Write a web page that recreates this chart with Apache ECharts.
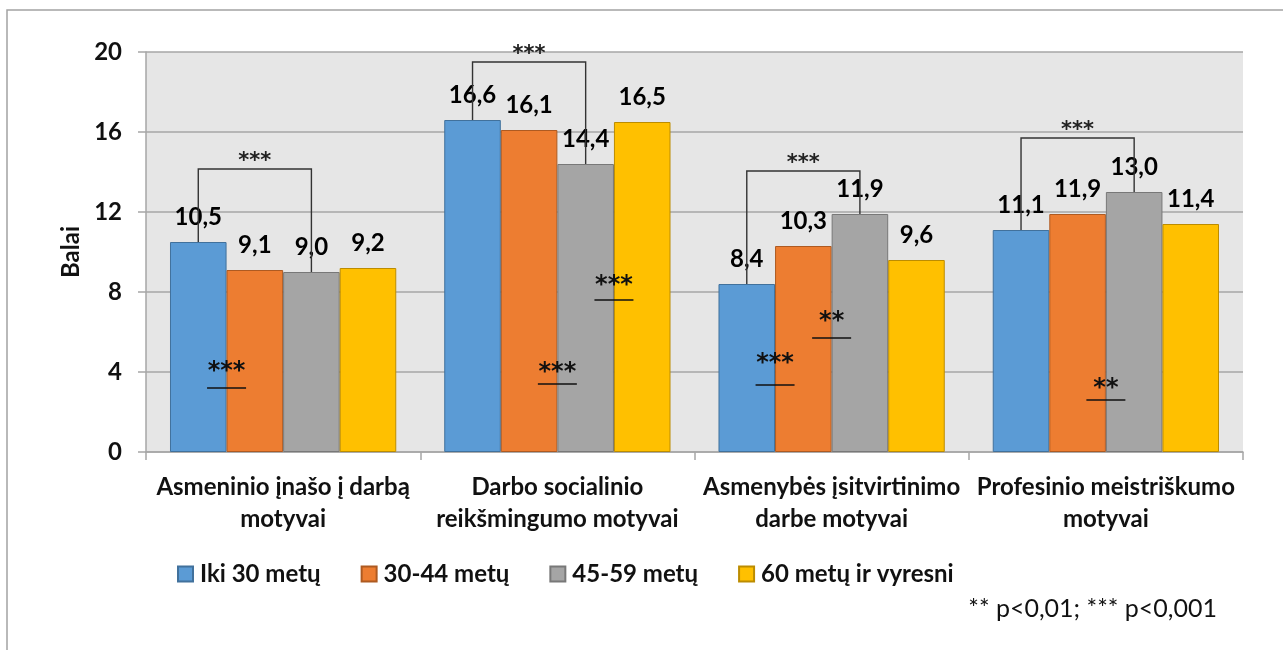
<!DOCTYPE html>
<html>
<head>
<meta charset="utf-8">
<script src="https://cdn.jsdelivr.net/npm/echarts@6/dist/echarts.min.js"></script>
<style>
html,body{margin:0;padding:0;background:#fff;}
#chart{width:1283px;height:650px;}
</style>
</head>
<body>
<div id="chart"></div>
<script>
// ---- data ----
const categories = ['Asmeninio įnašo į darbą\nmotyvai', 'Darbo socialinio\nreikšmingumo motyvai', 'Asmenybės įsitvirtinimo\ndarbe motyvai', 'Profesinio meistriškumo\nmotyvai'];
const seriesNames = ['Iki 30 metų', '30-44 metų', '45-59 metų', '60 metų ir vyresni'];
const iki30 = [10.5, 16.6, 8.4, 11.1];
const m30_44 = [9.1, 16.1, 10.3, 11.9];
const m45_59 = [9.0, 14.4, 11.9, 13.0];
const m60 = [9.2, 16.5, 9.6, 11.4];
const yMin = 0, yMax = 20, yInterval = 4;
// significance brackets (between two age groups within a category)
const bracketCategory = [0, 1, 2, 3];
const bracketFrom = [0, 0, 0, 0];
const bracketTo = [2, 2, 2, 2];
const bracketLevel = [14.15, 19.5, 14.05, 15.7];
const bracketLabel = ['***', '***', '***', '***'];
// significance marks drawn inside bars (placed at boundary after series index)
const markCategory = [0, 1, 1, 2, 2, 3];
const markAfterSeries = [0, 1, 2, 0, 1, 1];
const markTextValue = [4.3, 4.25, 8.6, 4.7, 6.8, 3.45];
const markLineValue = [3.2, 3.4, 7.6, 3.35, 5.7, 2.6];
const markLabel = ['***', '***', '***', '***', '**', '**'];
const footnote = '** p<0,01; *** p<0,001';

// ---- chart ----
const FONT = 'Lato';
const colors = ['#5b9bd5', '#ed7d31', '#a5a5a5', '#ffc000'];
const borders = ['#41719c', '#ae5a21', '#787878', '#bc8c00'];
const allSeries = [iki30, m30_44, m45_59, m60];
const CAT_GAP = 0.175;

const barSeries = allSeries.map((vals, i) => ({
  name: seriesNames[i],
  type: 'bar',
  data: vals,
  barGap: '0%',
  barCategoryGap: (CAT_GAP * 100) + '%',
  itemStyle: { color: colors[i], borderColor: borders[i], borderWidth: 1 },
  label: {
    show: true, position: 'top', distance: 13,
    fontFamily: FONT, fontWeight: 'bold', fontSize: 24, color: '#000',
    formatter: p => p.value.toFixed(1).replace('.', ',')
  },
  emphasis: { disabled: true },
  z: 2
}));

function barX(api, cat, pos) {
  const center = api.coord([cat, 0])[0];
  const band = api.size([1, 0])[0];
  const w = band * (1 - CAT_GAP) / 4;
  return center + (pos - 1.5) * w;
}

const bracketData = bracketCategory.map((c, i) => [c, bracketLevel[i], allSeries[bracketFrom[i]][c], allSeries[bracketTo[i]][c], bracketFrom[i], bracketTo[i]]);
const markData = markCategory.map((c, i) => [c, markLineValue[i], markTextValue[i], markAfterSeries[i]]);

const bracketSeries = {
  type: 'custom', coordinateSystem: 'cartesian2d', silent: true, z: 5, clip: false,
  data: bracketData,
  encode: { x: 0, y: 1 },
  renderItem: (params, api) => {
    const c = api.value(0);
    const yL = api.coord([c, api.value(1)])[1];
    const yA = api.coord([c, api.value(2)])[1];
    const yB = api.coord([c, api.value(3)])[1];
    const xA = barX(api, c, api.value(4));
    const xB = barX(api, c, api.value(5));
    return {
      type: 'group',
      children: [
        { type: 'polyline', shape: { points: [[xA, yA], [xA, yL], [xB, yL], [xB, yB]] },
          style: { stroke: '#333', lineWidth: 1.4, fill: null } },
        { type: 'text', x: (xA + xB) / 2, y: yL + 3,
          style: { text: bracketLabel[params.dataIndex], fontFamily: 'DejaVu Sans', fontWeight: 'bold', fontSize: 21,
                   fill: '#222', textAlign: 'center', textVerticalAlign: 'bottom' } }
      ]
    };
  }
};

const markSeries = {
  type: 'custom', coordinateSystem: 'cartesian2d', silent: true, z: 5, clip: false,
  data: markData,
  encode: { x: 0, y: 1 },
  renderItem: (params, api) => {
    const c = api.value(0);
    const yLine = api.coord([c, api.value(1)])[1];
    const yText = api.coord([c, api.value(2)])[1];
    const x = barX(api, c, api.value(3) + 0.5);
    return {
      type: 'group',
      children: [
        { type: 'line', shape: { x1: x - 19.5, y1: yLine, x2: x + 19.5, y2: yLine },
          style: { stroke: '#111', lineWidth: 1.3 } },
        { type: 'text', x: x, y: yText + 6,
          style: { text: markLabel[params.dataIndex], fontFamily: 'DejaVu Sans', fontWeight: 'bold', fontSize: 24,
                   fill: '#111', textAlign: 'center', textVerticalAlign: 'middle' } }
      ]
    };
  }
};

const chart = echarts.init(document.getElementById('chart'), null, { renderer: 'canvas' });
chart.setOption({
  animation: false,
  backgroundColor: '#ffffff',
  grid: { left: 146, right: 40, top: 52, bottom: 198, show: true, backgroundColor: '#e6e6e6', borderWidth: 0 },
  legend: {
    data: seriesNames, left: 172, top: 557, itemWidth: 15, itemHeight: 15, itemGap: 40,
    icon: 'rect', selectedMode: false,
    textStyle: { fontFamily: FONT, fontWeight: 'bold', fontSize: 24, color: '#111', padding: [0, 0, 0, 2] }
  },
  xAxis: {
    type: 'category', data: categories,
    axisLine: { lineStyle: { color: '#a6a6a6', width: 1.5 } },
    axisTick: { show: true, length: 8, interval: 0, lineStyle: { color: '#a6a6a6', width: 1.5 } },
    axisLabel: { interval: 0, margin: 19, fontFamily: FONT, fontWeight: 'bold', fontSize: 24, lineHeight: 32, color: '#111' },
    splitLine: { show: false }
  },
  yAxis: {
    type: 'value', min: yMin, max: yMax, interval: yInterval,
    name: 'Balai', nameLocation: 'middle', nameRotate: 90, nameGap: 61,
    nameTextStyle: { fontFamily: FONT, fontWeight: 'bold', fontSize: 24, color: '#111' },
    axisLine: { show: true, lineStyle: { color: '#a6a6a6', width: 1.5 } },
    axisTick: { show: true, length: 8, lineStyle: { color: '#a6a6a6', width: 1.5 } },
    axisLabel: { margin: 24, fontFamily: FONT, fontWeight: 'bold', fontSize: 24, color: '#111' },
    splitLine: { lineStyle: { color: '#a6a6a6', width: 1.5 } }
  },
  graphic: [
    { type: 'rect', shape: { x: 7, y: 10, width: 1400, height: 800 }, style: { fill: null, stroke: '#a3a3a3', lineWidth: 1.5 }, silent: true },
    { type: 'text', x: 1217, y: 609, style: { text: footnote, fontFamily: FONT, fontSize: 25, fill: '#111', textAlign: 'right', textVerticalAlign: 'middle' }, silent: true }
  ],
  series: [...barSeries, bracketSeries, markSeries]
});
</script>
</body>
</html>
